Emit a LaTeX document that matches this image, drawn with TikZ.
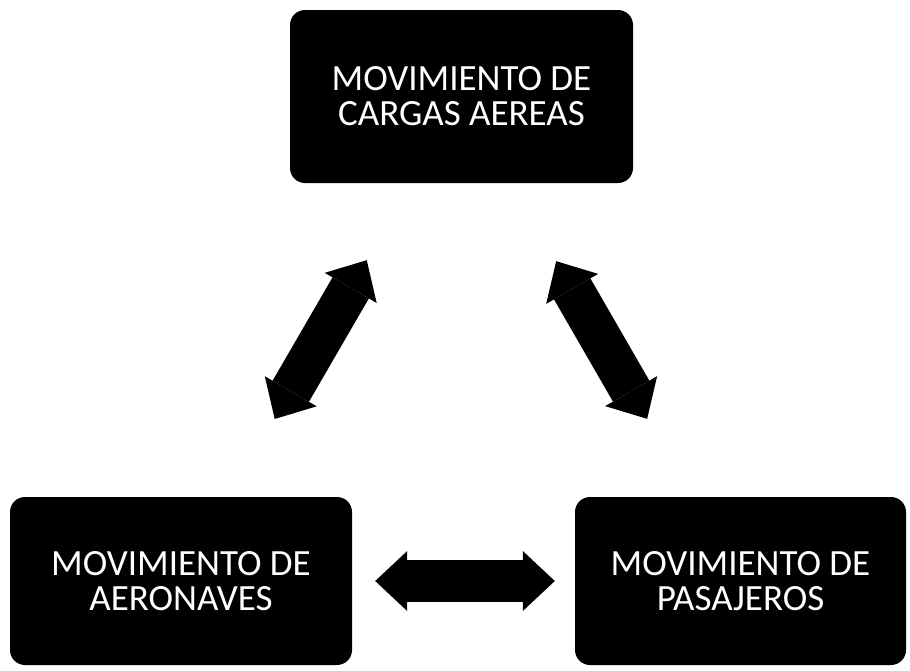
\documentclass[tikz,border=0pt]{standalone}
\usepackage{fontspec}
\setmainfont{Carlito}
\usetikzlibrary{arrows.meta}
\begin{document}
\begin{tikzpicture}[x=1pt,y=-1pt,inner sep=0pt,
caja/.style={fill=black,rounded corners=15pt,text=white,align=center,
font=\fontsize{37}{35}\selectfont},
flecha/.style={line width=42pt,>={Triangle[length=32pt,width=60pt,line width=0pt]},<->}]
\useasboundingbox (0,0) rectangle (910,670);
\node[caja,minimum width=343pt,minimum height=173pt] (cargas) at (461.5,96.5) {MOVIMIENTO DE\\CARGAS AEREAS};
\node[caja,minimum width=342pt,minimum height=168pt] (aeronaves) at (181,581) {MOVIMIENTO DE\\AERONAVES};
\node[caja,minimum width=331pt,minimum height=168pt] (pasajeros) at (740.5,581) {MOVIMIENTO DE\\PASAJEROS};
\draw[flecha,shorten <=90pt,shorten >=89pt] (aeronaves) -- (cargas);
\draw[flecha,shorten <=90pt,shorten >=90pt] (cargas) -- (pasajeros);
\draw[flecha,shorten <=23pt,shorten >=20pt] (aeronaves) -- (pasajeros);
\end{tikzpicture}
\end{document}
